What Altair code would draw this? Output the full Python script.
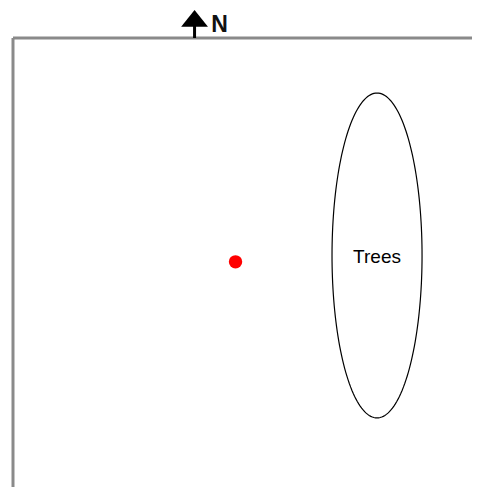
import numpy as np
import pandas as pd
import altair as alt

# Field coordinates (units: field grid, north up)
field_x = [0, 100]
field_y = [0, 100]

# Observer position (red dot)
observer_x = [47.8]
observer_y = [50.8]

# Trees area (ellipse): centre and semi-axes
tree_labels = ["Trees"]
tree_cx = [78.2]
tree_cy = [52.2]
tree_rx = [9.67]
tree_ry = [35.7]
label_y = [50.5]

# North marker
north_label = ["N"]
north_x = [39.0]
north_label_x = [42.6]
north_label_y = [101.3]
north_head_y = [104.3]
north_stem = [100, 103.4]

W, H = 464, 479
xs = alt.Scale(domain=[-1.074, 98.60], range=[0, W], nice=False, zero=False)
ys = alt.Scale(domain=[1.319, 106.59], range=[H, 0], nice=False, zero=False)
X = lambda f: alt.X(f, type="quantitative", scale=xs, axis=None)
Y = lambda f: alt.Y(f, type="quantitative", scale=ys, axis=None)

# Box sides
sides = pd.DataFrame({
    "x": [field_x[0], field_x[0], field_x[1], field_x[0]],
    "x2": [field_x[0], field_x[1], field_x[1], field_x[1]],
    "y": [field_y[0], field_y[1], field_y[0], field_y[0]],
    "y2": [field_y[1], field_y[1], field_y[1], field_y[0]],
    "side": ["left", "top", "right", "bottom"],
})
dark = sides[sides.side.isin(["left", "top"])]
dark_rules = alt.Chart(dark).mark_rule(color="#8a8a8a", strokeWidth=3, clip=True).encode(
    x=X("x"), x2="x2", y=Y("y"), y2="y2")

# Ellipse outline
t = np.linspace(0, 2 * np.pi, 181)
ell = pd.DataFrame({
    "x": tree_cx[0] + tree_rx[0] * np.cos(t),
    "y": tree_cy[0] + tree_ry[0] * np.sin(t),
    "o": np.arange(len(t)),
})
ellipse = alt.Chart(ell).mark_line(color="black", strokeWidth=1.2).encode(
    x=X("x"), y=Y("y"), order="o:Q")

trees_text = alt.Chart(pd.DataFrame({"x": tree_cx, "y": label_y, "t": tree_labels})).mark_text(
    font="Liberation Sans", fontSize=19, color="black", align="center", baseline="alphabetic"
).encode(x=X("x"), y=Y("y"), text="t:N")

dot = alt.Chart(pd.DataFrame({"x": observer_x, "y": observer_y})).mark_circle(
    color="#ff0000", size=180, opacity=1).encode(x=X("x"), y=Y("y"))

# North arrow
stem = alt.Chart(pd.DataFrame({"x": north_x, "y": [north_stem[0]], "y2": [north_stem[1]]})).mark_rule(
    color="black", strokeWidth=3).encode(x=X("x"), y=Y("y"), y2="y2")
head = alt.Chart(pd.DataFrame({"x": north_x, "y": north_head_y})).mark_point(
    shape="M0,-0.63L1,0.63L-1,0.63Z", filled=True, color="black", size=720, opacity=1,
    strokeWidth=0).encode(x=X("x"), y=Y("y"))
n_text = alt.Chart(pd.DataFrame({"x": north_label_x, "y": north_label_y, "t": north_label})).mark_text(
    font="Liberation Sans", fontSize=23, fontWeight="bold", color="#111111", align="left",
    baseline="alphabetic").encode(x=X("x"), y=Y("y"), text="t:N")

chart = alt.layer(dark_rules, ellipse, trees_text, dot, stem, head, n_text).properties(
    width=W, height=H, autosize=alt.AutoSizeParams(type="none"), padding=0,
    background="white"
).configure_view(strokeWidth=0)

chart.save("out.html", embed_options={"renderer": "svg", "actions": False})
